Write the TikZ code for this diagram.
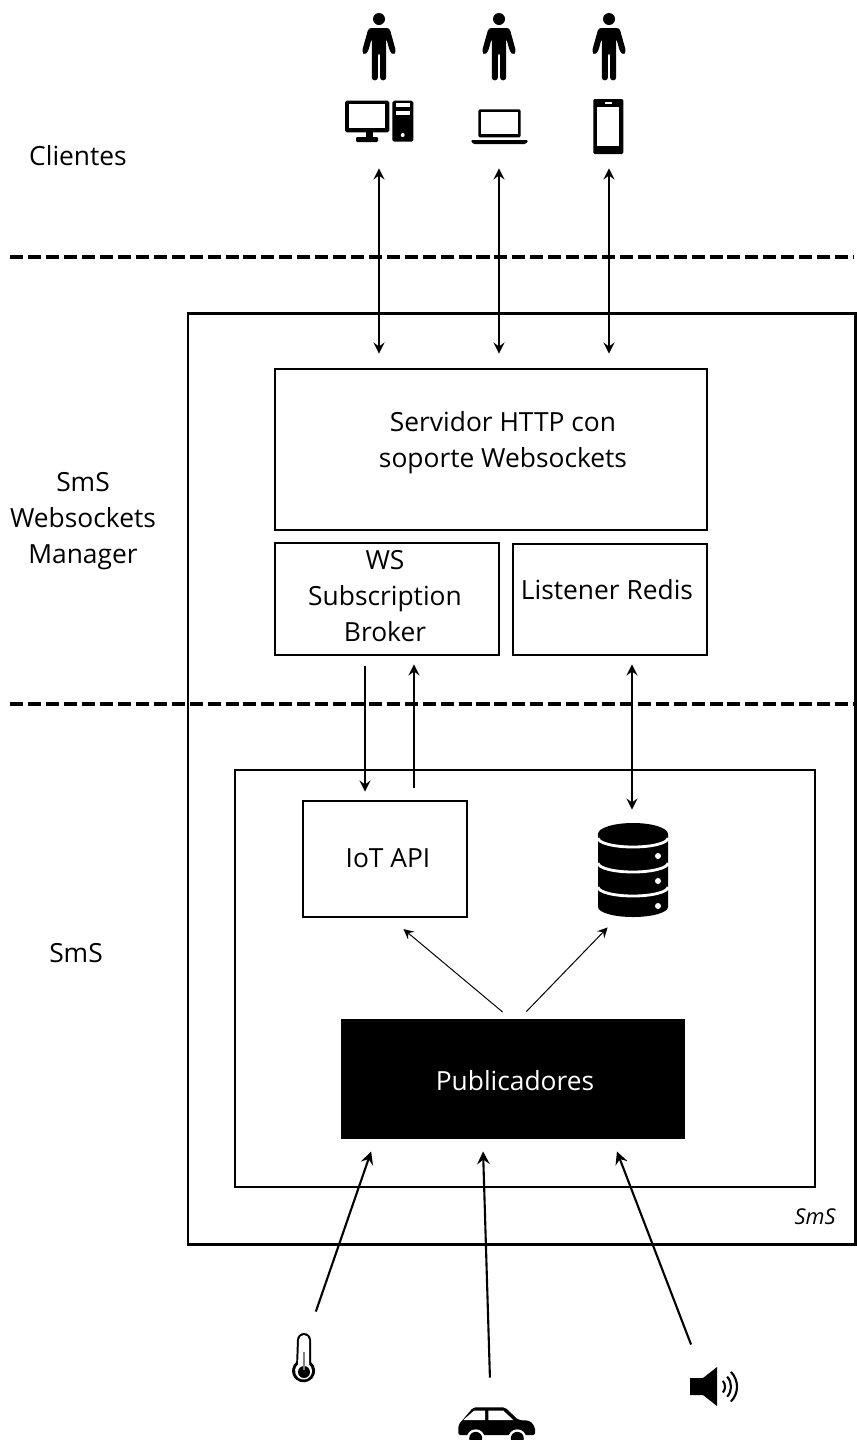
\documentclass[tikz,border=0pt]{standalone}
\usepackage{fontspec}
\setmainfont{Open Sans}
\usetikzlibrary{arrows}
\pgfdeclarelayer{edgelayer}
\pgfdeclarelayer{nodelayer}
\pgfsetlayers{edgelayer,nodelayer,main}
\tikzstyle{none}=[inner sep=0pt]
\tikzstyle{label}=[inner sep=0pt,font=\fontsize{7.5}{9}\selectfont]
\tikzstyle{outerbox}=[rectangle,draw=black,line width=0.85pt]
\tikzstyle{box}=[rectangle,draw=black,line width=0.55pt]
\tikzstyle{thinbox}=[rectangle,draw=black,line width=0.3pt]
\tikzstyle{blackbox}=[rectangle,fill=black,text=white,inner sep=0pt,font=\fontsize{7.5}{9}\selectfont]
\tikzstyle{divider}=[-,line width=0.9pt,dash pattern=on 3.7pt off 1.4pt]
\tikzstyle{twoway}=[<->,>=stealth,line width=0.4pt]
\tikzstyle{oneway}=[->,>=stealth,line width=0.4pt]
\tikzstyle{thinarrow}=[->,>=stealth,line width=0.28pt]
\tikzstyle{inarrow}=[->,>=stealth,line width=0.6pt]
\tikzstyle{icon}=[fill=black,draw=none]
\tikzstyle{hole}=[fill=white,draw=none]
\newcommand{\drawperson}[1]{
	\begin{scope}[shift={(#1)}]
		\fill [style=icon] (0,0) circle (0.06);
		\fill [style=icon,rounded corners=0.8pt] (-0.105,-0.09) -- (-0.172,-0.33) -- (-0.14,-0.36) -- (-0.108,-0.323) -- (-0.072,-0.19) -- (-0.072,-0.613) -- (-0.011,-0.613) -- (-0.011,-0.34) -- (0.011,-0.34) -- (0.011,-0.613) -- (0.072,-0.613) -- (0.072,-0.19) -- (0.108,-0.323) -- (0.14,-0.36) -- (0.172,-0.33) -- (0.105,-0.09) -- cycle;
	\end{scope}
}
\begin{document}
\begin{tikzpicture}
	\useasboundingbox (0,0) rectangle (8.56,-14.4);
	\begin{pgfonlayer}{nodelayer}
		\node [style=label] (clientes) at (0.78,-1.56) {Clientes};
		\node [style=label,align=center] (manager) at (0.83,-5.21) {SmS\\[1.2pt]Websockets\\[1.2pt]Manager};
		\node [style=label] (sms) at (0.76,-9.53) {SmS};

		\node [style=outerbox,minimum width=6.67cm,minimum height=9.31cm] (outer) at (5.215,-7.785) {};
		\node [style=box,minimum width=4.32cm,minimum height=1.61cm] (server) at (4.91,-4.495) {};
		\node [style=box,minimum width=2.24cm,minimum height=1.12cm] (broker) at (3.87,-5.99) {};
		\node [style=box,minimum width=1.94cm,minimum height=1.11cm] (listener) at (6.10,-5.995) {};
		\node [style=box,minimum width=5.80cm,minimum height=4.17cm] (inner) at (5.25,-9.785) {};
		\node [style=thinbox,minimum width=1.64cm,minimum height=1.16cm] (iot) at (3.85,-8.59) {};
		\node [style=blackbox,minimum width=3.44cm,minimum height=1.20cm] (publicadores) at (5.13,-10.79) {};

		\node [style=label,align=center] (serverlabel) at (5.03,-4.43) {Servidor HTTP con\\[1.2pt]soporte Websockets};
		\node [style=label,align=center] (brokerlabel) at (3.85,-5.96) {WS\\[1.2pt]Subscription\\[1.2pt]Broker};
		\node [style=label] (listenerlabel) at (6.07,-5.90) {Listener Redis};
		\node [style=label] (iotlabel) at (3.88,-8.58) {IoT API};
		\node [style=blackbox] (publabel) at (5.15,-10.81) {Publicadores};
		\node [style=label,font=\fontsize{6.2}{7}\selectfont\itshape] (smstag) at (8.15,-12.17) {SmS};

		\node [style=none] (d1l) at (0.08,-2.57) {};
		\node [style=none] (d1r) at (8.56,-2.57) {};
		\node [style=none] (d2l) at (0.08,-7.04) {};
		\node [style=none] (d2r) at (8.56,-7.04) {};

		\node [style=none] (c1t) at (3.79,-1.66) {};
		\node [style=none] (c1b) at (3.79,-3.56) {};
		\node [style=none] (c2t) at (4.99,-1.66) {};
		\node [style=none] (c2b) at (4.99,-3.56) {};
		\node [style=none] (c3t) at (6.09,-1.66) {};
		\node [style=none] (c3b) at (6.09,-3.56) {};

		\node [style=none] (downt) at (3.65,-6.64) {};
		\node [style=none] (downb) at (3.65,-7.94) {};
		\node [style=none] (upb) at (4.14,-7.90) {};
		\node [style=none] (upt) at (4.14,-6.62) {};
		\node [style=none] (redist) at (6.32,-6.62) {};
		\node [style=none] (redisb) at (6.32,-8.12) {};

		\node [style=none] (p1s) at (5.05,-10.14) {};
		\node [style=none] (p1e) at (4.01,-9.27) {};
		\node [style=none] (p2s) at (5.24,-10.14) {};
		\node [style=none] (p2e) at (6.10,-9.25) {};

		\node [style=none] (temps) at (3.15,-13.14) {};
		\node [style=none] (tempe) at (3.72,-11.49) {};
		\node [style=none] (cars) at (4.90,-13.80) {};
		\node [style=none] (care) at (4.83,-11.49) {};
		\node [style=none] (sounds) at (6.92,-13.47) {};
		\node [style=none] (sounde) at (6.16,-11.49) {};
	\end{pgfonlayer}
	\begin{pgfonlayer}{edgelayer}
		\draw [style=divider] (d1l) to (d1r);
		\draw [style=divider] (d2l) to (d2r);
		\draw [style=twoway] (c1t) to (c1b);
		\draw [style=twoway] (c2t) to (c2b);
		\draw [style=twoway] (c3t) to (c3b);
		\draw [style=oneway] (downt) to (downb);
		\draw [style=oneway] (upb) to (upt);
		\draw [style=twoway] (redist) to (redisb);
		\draw [style=thinarrow] (p1s) to (p1e);
		\draw [style=thinarrow] (p2s) to (p2e);
		\draw [style=inarrow] (temps) to (tempe);
		\draw [style=inarrow] (cars) to (care);
		\draw [style=inarrow] (sounds) to (sounde);
	\end{pgfonlayer}

	% people
	\drawperson{3.79,-0.19}
	\drawperson{4.99,-0.19}
	\drawperson{6.09,-0.19}

	% desktop
	\fill [style=icon,rounded corners=0.5pt] (3.45,-1.007) rectangle (3.893,-1.323);
	\fill [style=hole] (3.49,-1.043) rectangle (3.85,-1.283);
	\fill [style=icon] (3.66,-1.32) rectangle (3.73,-1.37);
	\fill [style=icon,rounded corners=0.3pt] (3.56,-1.37) rectangle (3.78,-1.42);
	\fill [style=icon,rounded corners=0.5pt] (3.923,-1.007) rectangle (4.133,-1.417);
	\fill [style=hole] (3.957,-1.033) rectangle (4.10,-1.073);
	\fill [style=hole] (3.957,-1.107) rectangle (4.10,-1.15);
	\fill [style=hole] (4.027,-1.35) circle (0.02);

	% laptop
	\fill [style=icon,rounded corners=0.4pt] (4.783,-1.093) rectangle (5.207,-1.373);
	\fill [style=hole] (4.813,-1.123) rectangle (5.177,-1.343);
	\fill [style=icon,rounded corners=0.4pt] (4.707,-1.40) -- (5.283,-1.40) -- (5.26,-1.44) -- (4.73,-1.44) -- cycle;

	% phone
	\fill [style=icon,rounded corners=0.4pt] (5.933,-0.99) rectangle (6.233,-1.54);
	\fill [style=hole] (5.973,-1.067) rectangle (6.193,-1.46);
	\fill [style=hole] (6.05,-1.017) rectangle (6.117,-1.04);

	% database
	\fill [style=icon] (5.98,-8.34) -- (5.98,-9.07) arc (180:360:0.35 and 0.10) -- (6.68,-8.34) arc (0:180:0.35 and 0.11) -- cycle;
	\draw [white,line width=0.8pt] (5.98,-8.38) arc (180:360:0.35 and 0.09);
	\draw [white,line width=0.8pt] (5.98,-8.63) arc (180:360:0.35 and 0.09);
	\draw [white,line width=0.8pt] (5.98,-8.87) arc (180:360:0.35 and 0.09);
	\fill [style=hole] (6.58,-8.56) circle (0.03);
	\fill [style=hole] (6.58,-8.81) circle (0.03);
	\fill [style=hole] (6.58,-9.06) circle (0.03);

	% thermometer
	\fill [style=icon] (2.97,-13.40) arc (180:0:0.07) -- (3.11,-13.62) arc (50:-230:0.115) -- cycle;
	\fill [style=hole] (2.99,-13.40) arc (180:0:0.05) -- (3.09,-13.645) arc (50:-230:0.085) -- cycle;
	\fill [style=icon] (3.04,-13.72) circle (0.06);
	\draw [gray,line width=0.5pt] (3.04,-13.52) -- (3.04,-13.70);

	% car
	\fill [style=icon,rounded corners=0.6pt] (4.583,-14.25) -- (4.733,-14.073) -- (5.05,-14.073) -- (5.183,-14.20) -- (5.30,-14.207) -- (5.35,-14.27) -- (5.35,-14.35) -- (4.583,-14.35) -- cycle;
	\fill [style=hole] (4.633,-14.20) -- (4.74,-14.107) -- (4.85,-14.107) -- (4.85,-14.20) -- cycle;
	\fill [style=hole] (4.883,-14.107) -- (5.033,-14.107) -- (5.133,-14.20) -- (4.883,-14.20) -- cycle;
	\fill [style=hole] (4.757,-14.383) circle (0.09);
	\fill [style=hole] (5.173,-14.383) circle (0.09);
	\fill [style=icon] (4.757,-14.383) circle (0.065);
	\fill [style=icon] (5.173,-14.383) circle (0.065);

	% speaker
	\fill [style=icon] (6.90,-13.78) -- (7.03,-13.78) -- (7.17,-13.67) -- (7.17,-14.06) -- (7.03,-13.95) -- (6.90,-13.95) -- cycle;
	\draw [line width=0.6pt] (7.16,-13.867) ++(40:0.09) arc (40:-40:0.09);
	\draw [line width=0.6pt] (7.16,-13.867) ++(42:0.15) arc (42:-42:0.15);
	\draw [line width=0.6pt] (7.16,-13.867) ++(45:0.21) arc (45:-45:0.21);
\end{tikzpicture}
\end{document}
